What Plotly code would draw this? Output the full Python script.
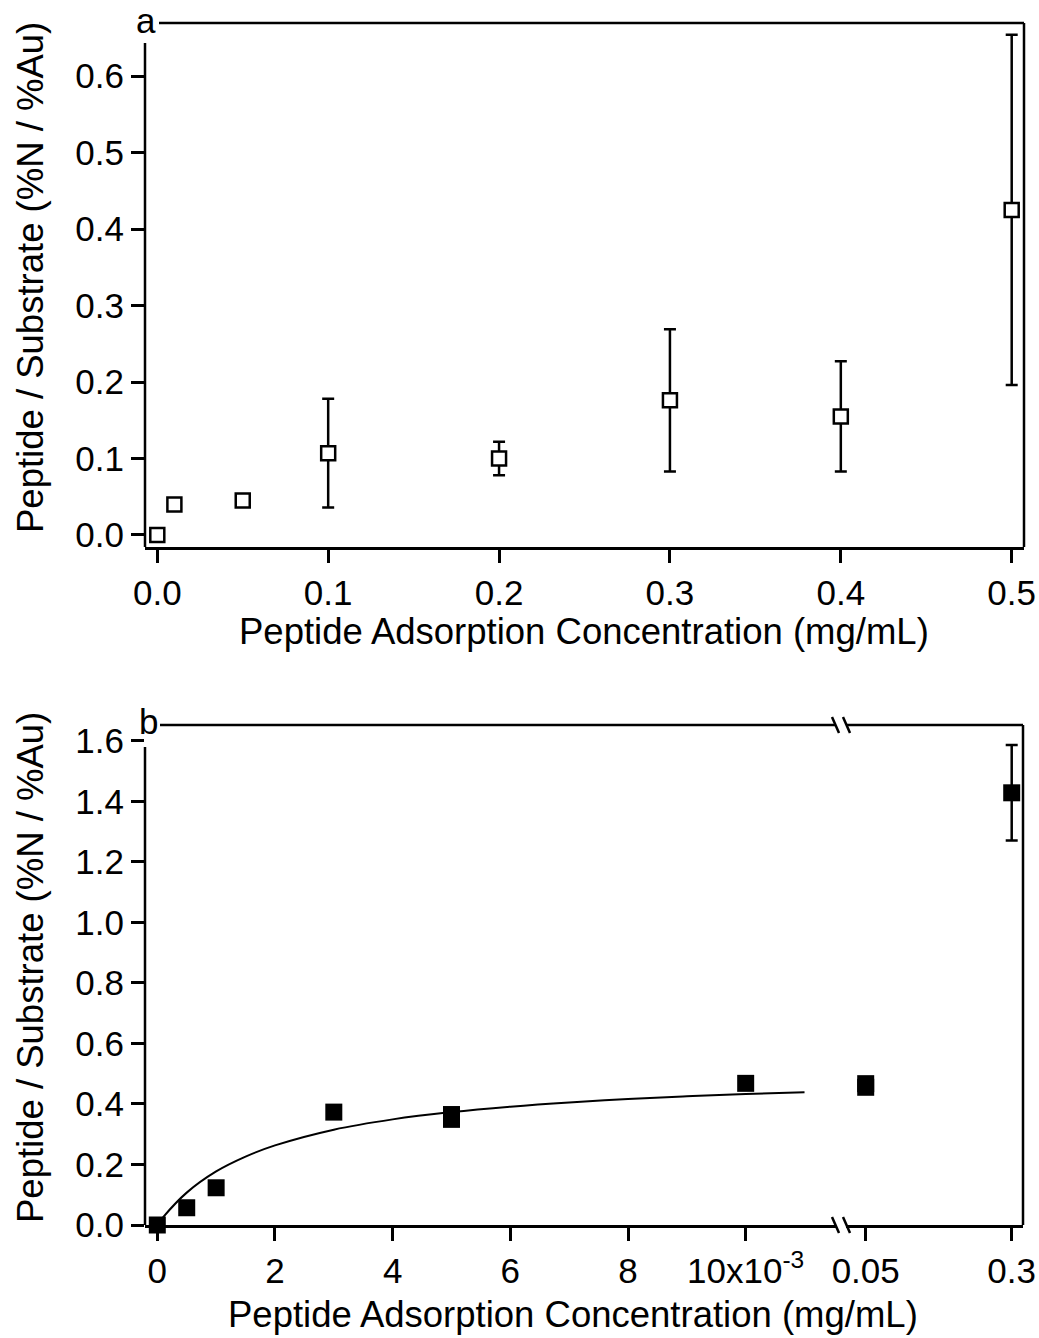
import plotly.graph_objects as go

# ---------------- data ----------------
# Panel a
a_conc = [0.0, 0.01, 0.05, 0.1, 0.2, 0.3, 0.4, 0.5]
a_ratio = [0.0, 0.040, 0.045, 0.107, 0.100, 0.176, 0.155, 0.425]
a_err = [None, None, None, 0.071, 0.022, 0.093, 0.072, 0.229]
a_xticks = [0.0, 0.1, 0.2, 0.3, 0.4, 0.5]
a_yticks = [0.0, 0.1, 0.2, 0.3, 0.4, 0.5, 0.6]

# Panel b, low-concentration segment (mg/mL)
b_conc_low = [0.0, 0.0005, 0.001, 0.003, 0.005, 0.005, 0.010]
b_ratio_low = [0.0, 0.057, 0.123, 0.373, 0.349, 0.365, 0.468]
# Panel b, high-concentration segment (mg/mL)
b_conc_high = [0.05, 0.05, 0.3]
b_ratio_high = [0.455, 0.467, 1.428]
b_err_high = [None, None, 0.158]
# fitted curve
fit_conc = [0.0, 0.0001, 0.0005, 0.001, 0.0015, 0.002, 0.003, 0.004, 0.005,
            0.006, 0.007, 0.008, 0.009, 0.010, 0.011]
fit_ratio = [0.0, 0.026, 0.107, 0.177, 0.226, 0.263, 0.315, 0.349, 0.373,
             0.391, 0.405, 0.416, 0.425, 0.433, 0.439]
b_low_tickvals = [0.0, 0.002, 0.004, 0.006, 0.008, 0.010]
b_low_ticktext = ["0", "2", "4", "6", "8", "10x10<sup>-3</sup>"]
b_high_tickvals = [0.05, 0.3]
b_high_ticktext = ["0.05", "0.3"]
b_yticks = [0.0, 0.2, 0.4, 0.6, 0.8, 1.0, 1.2, 1.4, 1.6]

x_title = "Peptide Adsorption Concentration (mg/mL)"
y_title = "Peptide / Substrate (%N / %Au)"

# ---------------- layout geometry ----------------
W, H = 1039, 1338
ML, MR, MT, MB = 145, 15, 23, 113
PW, PH = W - ML - MR, H - MT - MB


def px(xp):
    return (xp - ML) / PW


def py(yp):
    return (H - MB - yp) / PH


FONT = "Liberation Sans, Arial, sans-serif"
LW = 2.5

fig = go.Figure()

# panel a
fig.add_trace(go.Scatter(
    x=a_conc, y=a_ratio, mode="markers", xaxis="x", yaxis="y",
    cliponaxis=False,
    error_y=dict(type="data", array=a_err, visible=True, color="black",
                 thickness=LW, width=6),
    marker=dict(symbol="square", size=14, color="white",
                line=dict(color="black", width=2.5)),
    showlegend=False))

# panel b fit line
fig.add_trace(go.Scatter(
    x=fit_conc, y=fit_ratio, mode="lines", xaxis="x2", yaxis="y2",
    line=dict(color="black", width=2, shape="spline"), showlegend=False,
    cliponaxis=False))
# panel b low points
fig.add_trace(go.Scatter(
    x=b_conc_low, y=b_ratio_low, mode="markers", xaxis="x2", yaxis="y2",
    cliponaxis=False,
    marker=dict(symbol="square", size=17, color="black"), showlegend=False))
# panel b high points
fig.add_trace(go.Scatter(
    x=b_conc_high, y=b_ratio_high, mode="markers", xaxis="x3", yaxis="y2",
    cliponaxis=False,
    error_y=dict(type="data", array=b_err_high, visible=True, color="black",
                 thickness=LW, width=6),
    marker=dict(symbol="square", size=17, color="black"), showlegend=False))

tickfont = dict(family=FONT, size=35, color="black")
common = dict(showgrid=False, zeroline=False, ticks="outside", ticklen=13,
              tickwidth=LW, tickcolor="black", tickfont=tickfont,
              automargin=False)

# panel a axes
a_top, a_bot = py(23), py(547)
fig.update_layout(
    xaxis=dict(domain=[0, 1], range=[-0.0072, 0.5072], anchor="y",
               tickvals=a_xticks, tickformat=".1f", showline=True,
               linecolor="black", linewidth=LW, **common),
    yaxis=dict(domain=[a_bot, a_top], range=[-0.0157, 0.6693], anchor="x",
               tickvals=a_yticks, tickformat=".1f", showline=False, **common),
)

# panel b axes
b_top = py(725)
x2_end = px(836)
x3_start = px(846)
b_right = px(1023)
fig.update_layout(
    xaxis2=dict(domain=[0, x2_end], range=[-0.000209, 0.011535], anchor="y2",
                tickvals=b_low_tickvals, ticktext=b_low_ticktext,
                showline=True, linecolor="black", linewidth=LW, **common),
    xaxis3=dict(domain=[x3_start, b_right], range=[0.01627, 0.31935],
                anchor="y2", tickvals=b_high_tickvals,
                ticktext=b_high_ticktext, showline=True, linecolor="black",
                linewidth=LW, **common),
    yaxis2=dict(domain=[0, b_top], range=[0, 1.652], anchor="x2",
                tickvals=b_yticks, tickformat=".1f", showline=False, **common),
)

line = dict(color="black", width=LW)
shapes = [
    # panel a left spine (starts below the label)
    dict(type="line", xref="paper", yref="paper", x0=0, x1=0,
         y0=a_bot, y1=py(43), line=line),
    # panel a top
    dict(type="line", xref="paper", yref="paper", x0=px(159), x1=1,
         y0=a_top, y1=a_top, line=line),
    # panel a right
    dict(type="line", xref="paper", yref="paper", x0=1, x1=1,
         y0=a_bot, y1=a_top, line=line),
    # panel b left spine
    dict(type="line", xref="paper", yref="paper", x0=0, x1=0,
         y0=0, y1=py(747), line=line),
    # panel b top (broken)
    dict(type="line", xref="paper", yref="paper", x0=px(160), x1=x2_end,
         y0=b_top, y1=b_top, line=line),
    dict(type="line", xref="paper", yref="paper", x0=x3_start, x1=b_right,
         y0=b_top, y1=b_top, line=line),
    # panel b right
    dict(type="line", xref="paper", yref="paper", x0=b_right, x1=b_right,
         y0=0, y1=b_top, line=line),
]
# break marks
for yc in (725, 1225):
    for x0 in (832, 843):
        shapes.append(dict(type="line", xref="paper", yref="paper",
                           x0=px(x0), x1=px(x0 + 7),
                           y0=py(yc - 8), y1=py(yc + 8), line=line))
fig.update_layout(shapes=shapes)

titlefont = dict(family=FONT, size=36.5, color="black")
annotations = [
    dict(text=x_title, xref="paper", yref="paper", x=px(584), y=py(631),
         xanchor="center", yanchor="middle", showarrow=False, font=titlefont),
    dict(text=x_title, xref="paper", yref="paper", x=px(573), y=py(1314),
         xanchor="center", yanchor="middle", showarrow=False, font=titlefont),
    dict(text=y_title, xref="paper", yref="paper", x=px(30), y=py(278),
         xanchor="center", yanchor="middle", textangle=-90, showarrow=False,
         font=titlefont),
    dict(text=y_title, xref="paper", yref="paper", x=px(30), y=py(968),
         xanchor="center", yanchor="middle", textangle=-90, showarrow=False,
         font=titlefont),
    dict(text="a", xref="paper", yref="paper", x=px(158), y=py(20),
         xanchor="right", yanchor="middle", showarrow=False,
         font=dict(family=FONT, size=35, color="black")),
    dict(text="b", xref="paper", yref="paper", x=px(160), y=py(722),
         xanchor="right", yanchor="middle", showarrow=False,
         font=dict(family=FONT, size=35, color="black")),
]
fig.update_layout(
    annotations=annotations,
    width=W, height=H,
    margin=dict(l=ML, r=MR, t=MT, b=MB, pad=0, autoexpand=False),
    paper_bgcolor="white", plot_bgcolor="white",
    font=dict(family=FONT, color="black"),
)

fig.write_html(
    "out.html",
    config={"displayModeBar": False},
    post_script="document.body.style.margin='0';"
                "document.documentElement.style.overflow='hidden';")
